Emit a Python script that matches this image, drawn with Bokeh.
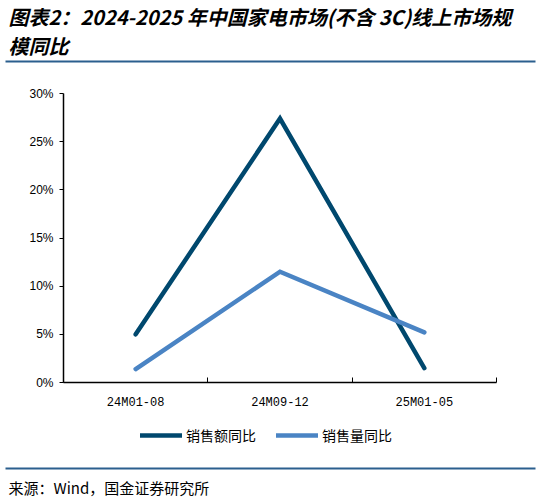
import numpy as np

from bokeh.plotting import figure
from bokeh.models import (Range1d, FixedTicker, NumeralTickFormatter, Label,
                          BoxAnnotation, Legend, LegendItem)
from bokeh.embed import file_html
from bokeh.resources import INLINE

title_lines = ["图表2：2024-2025 年中国家电市场(不含 3C)线上市场规", "模同比"]
source_text = "来源：Wind，国金证券研究所"

periods = ["24M01-08", "24M09-12", "25M01-05"]
sales_value_yoy = [0.050, 0.274, 0.015]   # 销售额同比
sales_volume_yoy = [0.014, 0.115, 0.052]  # 销售量同比
series_names = ["销售额同比", "销售量同比"]
series_colors = ["#00486E", "#4A84C4"]
y_ticks = [0, 0.05, 0.10, 0.15, 0.20, 0.25, 0.30]

CJK = "Noto Sans CJK SC"
RULE = "#2B5F8E"
W, H = 541, 499
# where the axes sit on the page (pixels)
AX_L, AX_R, AX_T, AX_B = 63, 496, 93, 382

n = len(periods)
y_top = y_ticks[-1]
kx = (AX_R - AX_L) / n
ky = (AX_B - AX_T) / y_top

# the frame fills the whole canvas; axes are pinned inside it
p = figure(width=W, height=H, output_backend="svg", toolbar_location=None,
           x_range=Range1d(-AX_L / kx, n + (W - AX_R) / kx),
           y_range=Range1d(-(H - AX_B) / ky, AX_B / ky),
           min_border=0, outline_line_color=None)
p.xgrid.grid_line_color = None
p.ygrid.grid_line_color = None

xs = np.arange(n) + 0.5
r1 = p.line(xs, sales_value_yoy, line_color=series_colors[0], line_width=4.5,
            line_join="miter", line_cap="round")
r2 = p.line(xs, sales_volume_yoy, line_color=series_colors[1], line_width=4.5,
            line_join="miter", line_cap="round")

# x axis: labels at centres, small inward ticks at category boundaries
xa = p.xaxis[0]
xa.fixed_location = 0
xa.bounds = (0, n)
xa.ticker = FixedTicker(ticks=list(xs), minor_ticks=list(range(n + 1)))
xa.major_label_overrides = {float(x): lab for x, lab in zip(xs, periods)}
xa.major_tick_line_color = None
xa.major_tick_in = 0
xa.major_tick_out = 0
xa.minor_tick_in = 5
xa.minor_tick_out = 0
xa.minor_tick_line_color = "black"
xa.axis_line_color = "black"
xa.axis_line_width = 1.5
xa.major_label_standoff = 13
xa.major_label_text_font = "Liberation Mono"
xa.major_label_text_font_size = "12px"
xa.major_label_text_color = "black"

ya = p.yaxis[0]
ya.fixed_location = 0
ya.bounds = (0, y_top)
ya.ticker = FixedTicker(ticks=y_ticks)
ya.formatter = NumeralTickFormatter(format="0%")
ya.major_tick_in = 0
ya.major_tick_out = 4
ya.minor_tick_line_color = None
ya.axis_line_color = "black"
ya.axis_line_width = 1.5
ya.major_label_standoff = 6
ya.major_label_text_font = "Liberation Sans"
ya.major_label_text_font_size = "12px"
ya.major_label_text_color = "black"


def sy(py):
    # page y (from top) -> screen units (from frame bottom)
    return H - py


for line, py in zip(title_lines, [16, 45]):
    p.add_layout(Label(x=8, y=sy(py), x_units="screen", y_units="screen",
                       text=line, text_font=CJK, text_font_size="20px",
                       text_font_style="bold italic", text_color="black",
                       text_baseline="middle", text_align="left"))

for py in [61, 468]:
    p.add_layout(BoxAnnotation(left=5, right=535, top=sy(py - 1), bottom=sy(py + 1),
                               left_units="screen", right_units="screen",
                               top_units="screen", bottom_units="screen",
                               fill_color=RULE, fill_alpha=1, line_color=None))

p.add_layout(Label(x=8, y=sy(487), x_units="screen", y_units="screen",
                   text=source_text, text_font=CJK, text_font_size="15px",
                   text_color="black", text_baseline="middle", text_align="left"))

legend = Legend(items=[LegendItem(label=series_names[0], renderers=[r1]),
                       LegendItem(label=series_names[1], renderers=[r2])],
                orientation="horizontal", location=(140, sy(445)),
                padding=0, margin=0, spacing=20, glyph_width=42, glyph_height=20,
                label_height=20, label_standoff=4, border_line_color=None,
                background_fill_alpha=0, label_text_font=CJK,
                label_text_font_size="14px", label_text_color="black")
p.add_layout(legend, "center")

open("out.html", "w").write(file_html(p, INLINE))
